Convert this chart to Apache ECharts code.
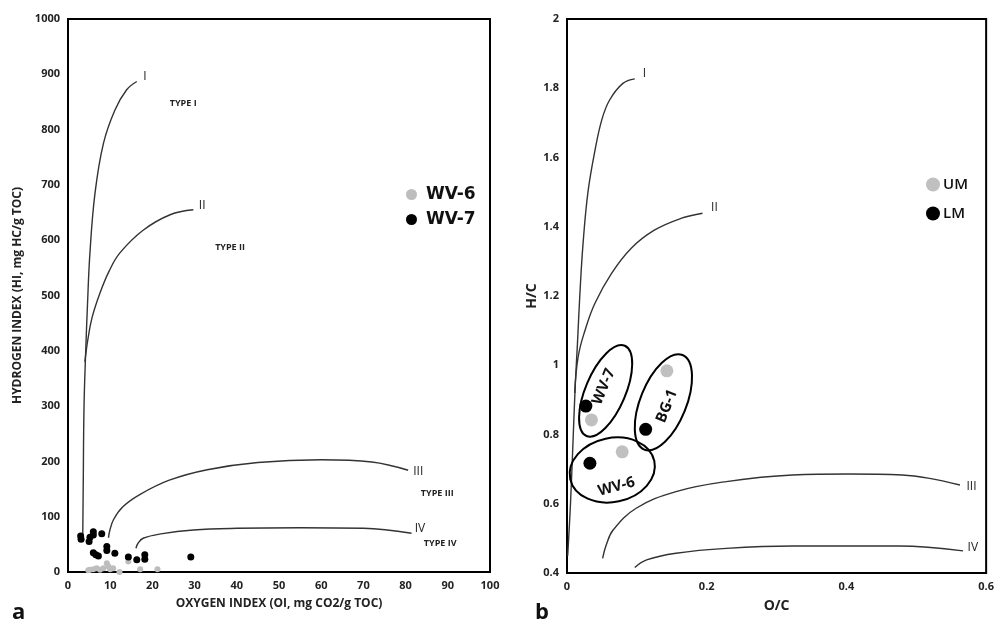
<!DOCTYPE html>
<html><head><meta charset="utf-8">
<script src="https://cdn.jsdelivr.net/npm/echarts@6/dist/echarts.min.js"></script>
<style>html,body{margin:0;padding:0;background:#fff}#c{width:997px;height:625px}</style>
</head><body><div id="c"></div>
<script>
// ---------- Data (panel a: Rock-Eval HI vs OI) ----------
const wv6 = [[4.8,3],[5.2,4],[6.0,5],[6.8,7],[7.6,4],[8.4,7],[9.2,16],[9.6,10],[10.0,5],[10.7,7],[12.2,0],[14.3,19],[17.1,5],[21.2,5]];
const wv7 = [[3.0,65],[3.1,59],[6.0,73],[6.0,67],[5.2,63],[5.0,55],[8.0,69],[9.2,46],[9.2,39],[6.0,35],[7.2,29],[6.6,31],[11.1,34],[14.3,27],[16.3,22],[18.2,31],[18.2,23],[29.1,27]];
const curveI_L = [[3.5,68],[3.6,150],[3.8,300],[4.2,400],[4.6,480],[5.2,577],[6.4,685],[8.4,775],[11.1,835],[13.9,872],[16.3,887]];
const curveII_L = [[4.0,380],[4.7,420],[5.7,460],[7.6,505],[9.8,545],[12.3,577],[17.8,618],[24.2,646],[29.7,655]];
const curveIII_L = [[9.6,62],[9.9,75],[10.8,95],[13,118],[17,140],[24,166],[33,185],[45,198],[60,203],[72,199],[80.6,184]];
const curveIV_L = [[16.1,43],[16.6,52],[17.8,61],[22,69],[29.7,76],[40,79],[55,80],[70,79],[81.4,70]];
const notesL = [[18.25,895,'I'],[31.8,662,'II'],[83.0,181,'III'],[83.4,79,'IV']];
const typeNotesL = [[27.3,847,'TYPE I'],[38.4,587,'TYPE II'],[87.5,142,'TYPE III'],[88.2,52,'TYPE IV']];
const xTicksL = {min:0, max:100, interval:10};
const yTicksL = {min:0, max:1000, interval:100};

// ---------- Data (panel b: van Krevelen H/C vs O/C) ----------
const um = [[0.035,0.842],[0.143,0.984],[0.079,0.75]];
const lm = [[0.027,0.882],[0.1126,0.815],[0.0328,0.717]];
const curveI_R = [[0.001,0.45],[0.005,0.6],[0.009,0.8],[0.012,0.95],[0.015,1.064],[0.0185,1.208],[0.023,1.352],[0.030,1.50],[0.040,1.62],[0.05,1.71],[0.061,1.766],[0.080,1.814],[0.097,1.827]];
const curveII_R = [[0.011,0.92],[0.016,1.025],[0.026,1.102],[0.040,1.179],[0.064,1.266],[0.092,1.338],[0.125,1.39],[0.163,1.424],[0.194,1.439]];
const curveIII_R = [[0.051,0.442],[0.056,0.48],[0.066,0.524],[0.099,0.587],[0.156,0.635],[0.228,0.664],[0.323,0.683],[0.403,0.686],[0.48,0.683],[0.517,0.674],[0.5625,0.654]];
const curveIV_R = [[0.097,0.416],[0.114,0.438],[0.156,0.457],[0.228,0.471],[0.323,0.478],[0.475,0.478],[0.567,0.464]];
const notesR = [[0.111,1.841,'I'],[0.211,1.454,'II'],[0.579,0.651,'III'],[0.581,0.474,'IV']];
const groupCenters = [[0.0553,0.926],[0.138,0.893],[0.0648,0.6975]];
const groupNames = [[0.0527,0.938,'WV-7'],[0.143,0.882,'BG-1'],[0.0708,0.649,'WV-6']];
const xTicksR = {min:0, max:0.6, interval:0.2};
const yTicksR = {min:0.4, max:2, interval:0.2};

// ---------- Styles ----------
const ellipseStyle = [{rx:20,ry:49,rot:-23},{rx:23,ry:51,rot:-22},{rx:43,ry:32,rot:12}];
const nameRot = [67, 68, 15];
const FONT = 'Open Sans';
const curveStyle = {color:'#333', width:1.4};

function curve(data, xi, yi){
  return {type:'line', xAxisIndex:xi, yAxisIndex:yi, data:data, smooth:0.4, showSymbol:false, silent:true,
    lineStyle:curveStyle, itemStyle:{color:'#333'}, z:2};
}
function notes(data, xi, yi, size, weight){
  return {type:'scatter', xAxisIndex:xi, yAxisIndex:yi, symbolSize:1, itemStyle:{color:'rgba(0,0,0,0)', opacity:1}, silent:true, z:5,
    data: data.map(d=>({value:[d[0],d[1]], name:d[2]})),
    label:{show:true, position:'inside', formatter:'{b}', color:'#222', fontFamily:FONT, fontSize:size, fontWeight:weight}};
}
function axisCommon(){
  return {axisLine:{show:false}, axisTick:{show:false}, splitLine:{show:false},
    axisLabel:{color:'#222', fontFamily:FONT, fontSize:11, fontWeight:'bold', formatter:v=>String(v)}};
}

const chart = echarts.init(document.getElementById('c'), null, {renderer:'canvas'});
chart.setOption({
  animation:false,
  backgroundColor:'#fff',
  grid:[
    {left:68, top:19, width:422, height:553, show:true, borderColor:'#000', borderWidth:2, backgroundColor:'transparent'},
    {left:567, top:19, width:421, height:554, show:true, borderColor:'#000', borderWidth:2, backgroundColor:'transparent'}
  ],
  xAxis:[
    Object.assign(axisCommon(), {gridIndex:0, type:'value', min:xTicksL.min, max:xTicksL.max, interval:xTicksL.interval,
      name:'OXYGEN INDEX (OI, mg CO2/g TOC)', nameLocation:'middle', nameGap:26,
      nameTextStyle:{color:'#222', fontFamily:FONT, fontSize:12, fontWeight:'bold'}}),
    Object.assign(axisCommon(), {gridIndex:1, type:'value', min:xTicksR.min, max:xTicksR.max, interval:xTicksR.interval,
      name:'O/C', nameLocation:'middle', nameGap:26,
      nameTextStyle:{color:'#222', fontFamily:FONT, fontSize:14, fontWeight:'bold'}})
  ],
  yAxis:[
    Object.assign(axisCommon(), {gridIndex:0, type:'value', min:yTicksL.min, max:yTicksL.max, interval:yTicksL.interval,
      name:'HYDROGEN INDEX (HI, mg HC/g TOC)', nameLocation:'middle', nameGap:44,
      nameTextStyle:{color:'#222', fontFamily:FONT, fontSize:12, fontWeight:'bold'}}),
    Object.assign(axisCommon(), {gridIndex:1, type:'value', min:yTicksR.min, max:yTicksR.max, interval:yTicksR.interval,
      name:'H/C', nameLocation:'middle', nameGap:24,
      nameTextStyle:{color:'#222', fontFamily:FONT, fontSize:14, fontWeight:'bold'}})
  ],
  legend:[
    {data:['WV-6','WV-7'], orient:'vertical', left:401, top:181, icon:'circle', itemWidth:11, itemHeight:11, itemGap:8,
      textStyle:{color:'#111', fontFamily:'DejaVu Sans', fontSize:17, fontWeight:'bold', padding:[0,0,0,4]}, selectedMode:false},
    {data:['UM','LM'], orient:'vertical', left:921, top:172, icon:'circle', itemWidth:14, itemHeight:14, itemGap:14,
      textStyle:{color:'#111', fontFamily:FONT, fontSize:15, fontWeight:600, padding:[0,0,0,-2]}, selectedMode:false}
  ],
  graphic:[
    {type:'text', left:12, top:602, style:{text:'a', font:'bold 22px "Open Sans"', fill:'#111'}},
    {type:'text', left:535, top:602, style:{text:'b', font:'bold 22px "Open Sans"', fill:'#111'}}
  ],
  series:[
    curve(curveI_L,0,0), curve(curveII_L,0,0), curve(curveIII_L,0,0), curve(curveIV_L,0,0),
    {name:'WV-6', type:'scatter', xAxisIndex:0, yAxisIndex:0, data:wv6, symbolSize:6, itemStyle:{color:'#bdbdbd', opacity:1}, z:4},
    {name:'WV-7', type:'scatter', xAxisIndex:0, yAxisIndex:0, data:wv7, symbolSize:7, itemStyle:{color:'#000', opacity:1}, z:4},
    notes(notesL,0,0,12,'normal'),
    notes(typeNotesL,0,0,9,'bold'),
    curve(curveI_R,1,1), curve(curveII_R,1,1), curve(curveIII_R,1,1), curve(curveIV_R,1,1),
    {type:'custom', xAxisIndex:1, yAxisIndex:1, data:groupCenters, silent:true, z:3,
      renderItem:function(params, api){
        const c = api.coord([api.value(0), api.value(1)]);
        const s = ellipseStyle[params.dataIndex];
        return {type:'ellipse', x:c[0], y:c[1], rotation:s.rot*Math.PI/180,
          shape:{cx:0, cy:0, rx:s.rx, ry:s.ry}, style:{fill:'none', stroke:'#000', lineWidth:2}};
      }},
    {name:'UM', type:'scatter', xAxisIndex:1, yAxisIndex:1, data:um, symbolSize:13, itemStyle:{color:'#c0c0c0', opacity:1}, z:4},
    {name:'LM', type:'scatter', xAxisIndex:1, yAxisIndex:1, data:lm, symbolSize:13, itemStyle:{color:'#000', opacity:1}, z:4},
    notes(notesR,1,1,12,'normal'),
    {type:'scatter', xAxisIndex:1, yAxisIndex:1, symbolSize:1, itemStyle:{color:'rgba(0,0,0,0)', opacity:1}, silent:true, z:5,
      data: groupNames.map((d,i)=>({value:[d[0],d[1]], name:d[2], label:{rotate:nameRot[i]}})),
      label:{show:true, position:'inside', formatter:'{b}', color:'#111', fontFamily:FONT, fontSize:15, fontWeight:'bold'}}
  ]
});
</script>
</body></html>
